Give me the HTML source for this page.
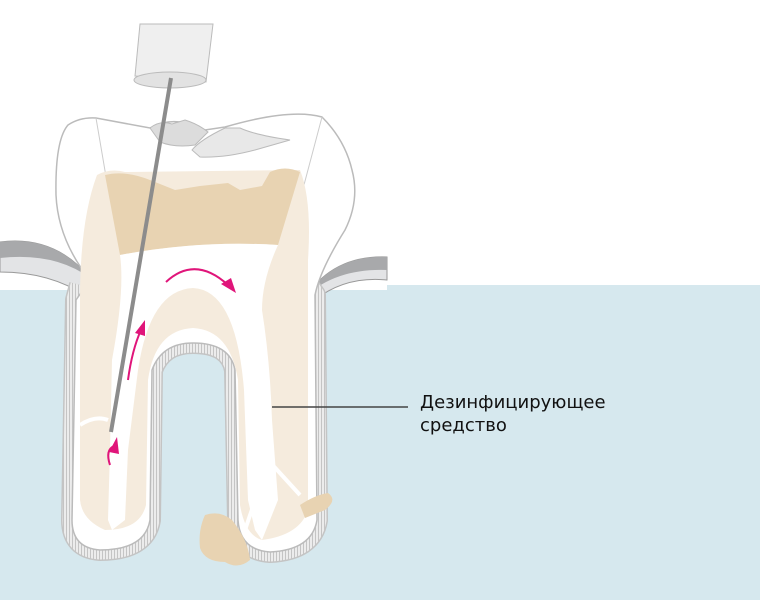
<!DOCTYPE html>
<html><head><meta charset="utf-8"><style>
body{margin:0;background:#fff}
svg{display:block}
text{font-family:"DejaVu Sans",sans-serif;font-size:18px;fill:#111}
</style></head><body>
<svg width="760" height="600" viewBox="0 0 760 600">
<defs>
<pattern id="h" width="3" height="3" patternUnits="userSpaceOnUse"><rect width="3" height="3" fill="#ececec"/><rect width="1" height="3" fill="#c4c4c4"/></pattern>
</defs>
<rect x="387" y="285" width="373" height="315" fill="#d6e8ee"/>
<rect x="0" y="290" width="390" height="310" fill="#d6e8ee"/>
<!-- gums -->
<path d="M0 242 Q55 235 90 278 L86 296 Q50 272 0 272Z" fill="#e3e4e6" stroke="#999" stroke-width="1"/>
<path d="M0 242 Q55 235 90 278 Q55 252 0 258Z" fill="#a8a9ab"/>
<path d="M387 257 Q335 255 307 295 L315 300 Q345 276 387 280Z" fill="#e3e4e6" stroke="#999"/>
<path d="M387 257 Q335 255 307 295 Q338 268 387 270Z" fill="#a8a9ab"/>
<!-- periodontal band -->
<path d="M80 285 L76 300 L72 520 Q72 548 100 550 Q145 550 150 520 L152 370 Q162 343 193 343 Q230 343 235 370 L238 520 Q240 550 270 552 Q312 550 317 520 L315 295 L308 285" fill="none" stroke="#c4c4c4" stroke-width="22" stroke-linejoin="round"/>
<path d="M80 285 L76 300 L72 520 Q72 548 100 550 Q145 550 150 520 L152 370 Q162 343 193 343 Q230 343 235 370 L238 520 Q240 550 270 552 Q312 550 317 520 L315 295 L308 285" fill="none" stroke="url(#h)" stroke-width="19" stroke-linejoin="round"/>
<!-- tooth white outer -->
<path d="M90 280 Q58 240 56 195 Q55 140 68 125 Q80 117 96 118 L150 128 Q165 120 180 122 Q195 125 205 130 L225 127 Q290 108 322 117 Q345 140 352 170 Q360 200 345 230 Q320 270 315 295 L317 520 Q312 550 270 552 Q240 550 238 520 L235 370 Q230 343 193 343 Q162 343 152 370 L150 520 Q145 550 100 550 Q72 548 72 520 L76 300 Z" fill="#fff" stroke="#bbb" stroke-width="1.5"/>
<path d="M96 118 L110 200 M322 117 L300 200" stroke="#ccc" fill="none"/>
<!-- filling gray -->
<path d="M150 128 Q160 120 172 124 L185 120 Q198 124 208 132 L195 145 Q175 148 160 142Z" fill="#dcdcdc" stroke="#bbb"/>
<path d="M192 150 Q200 140 225 128 L240 128 Q255 135 290 140 L255 150 Q225 158 200 157Z" fill="#e8e8e8" stroke="#bbb"/>
<!-- dentin -->
<path d="M97 175 Q110 168 125 172 L300 170 Q312 200 308 260 L308 510 Q300 535 262 540 Q245 535 240 505 L238 380 Q230 330 193 328 Q155 330 148 380 L146 505 Q140 530 105 530 Q82 520 80 500 L80 300 Q80 220 97 175Z" fill="#f5ebdd"/>
<path d="M105 175 Q125 170 150 180 L175 190 L200 186 L228 183 L240 190 L262 186 L270 172 Q285 165 300 172 L278 245 Q200 240 120 255Z" fill="#e8d3b2"/>
<!-- pulp -->
<path d="M120 255 Q200 240 278 245 Q262 280 262 310 Q270 360 272 420 L278 500 L262 540 L255 530 L248 500 L244 390 Q236 290 193 288 Q150 290 138 370 L128 450 L125 520 L112 530 L108 520 L110 450 L112 360 Q125 290 120 255Z" fill="#fff"/>
<path d="M80 425 Q95 415 108 420" stroke="#fff" stroke-width="4" fill="none"/>
<path d="M268 460 L300 495 M262 480 L245 530" stroke="#fff" stroke-width="4" fill="none"/>
<!-- lesions -->
<path d="M205 515 Q220 510 232 520 Q248 540 250 560 Q238 570 225 562 Q205 562 200 548 Q198 530 205 515Z" fill="#e8d3b2"/>
<path d="M300 505 Q315 495 328 493 Q338 500 325 510 L305 518Z" fill="#e8d3b2"/>
<!-- instrument -->
<path d="M140 24 L213 24 L206 82 L135 76Z" fill="#efefef" stroke="#bbb"/>
<ellipse cx="170" cy="80" rx="36" ry="8" fill="#e2e2e2" stroke="#bbb"/>
<line x1="171" y1="78" x2="111" y2="432" stroke="#8c8c8c" stroke-width="4"/>
<g stroke="#e0157a" stroke-width="2" fill="none">
<path d="M166 282 Q195 255 228 285"/>
<path d="M128 380 Q132 350 141 330"/>
<path d="M110 465 Q105 450 114 446"/>
</g>
<g fill="#e0157a">
<path d="M236 293 L221 284 L231 278Z"/>
<path d="M145 320 L135 333 L145 336Z"/>
<path d="M117 437 L109 452 L119 454Z"/>
</g>
<line x1="272" y1="407" x2="408" y2="407" stroke="#444" stroke-width="1.5"/>
<text x="420" y="408">Дезинфицирующее</text>
<text x="420" y="431">средство</text>
</svg>
</body></html>
